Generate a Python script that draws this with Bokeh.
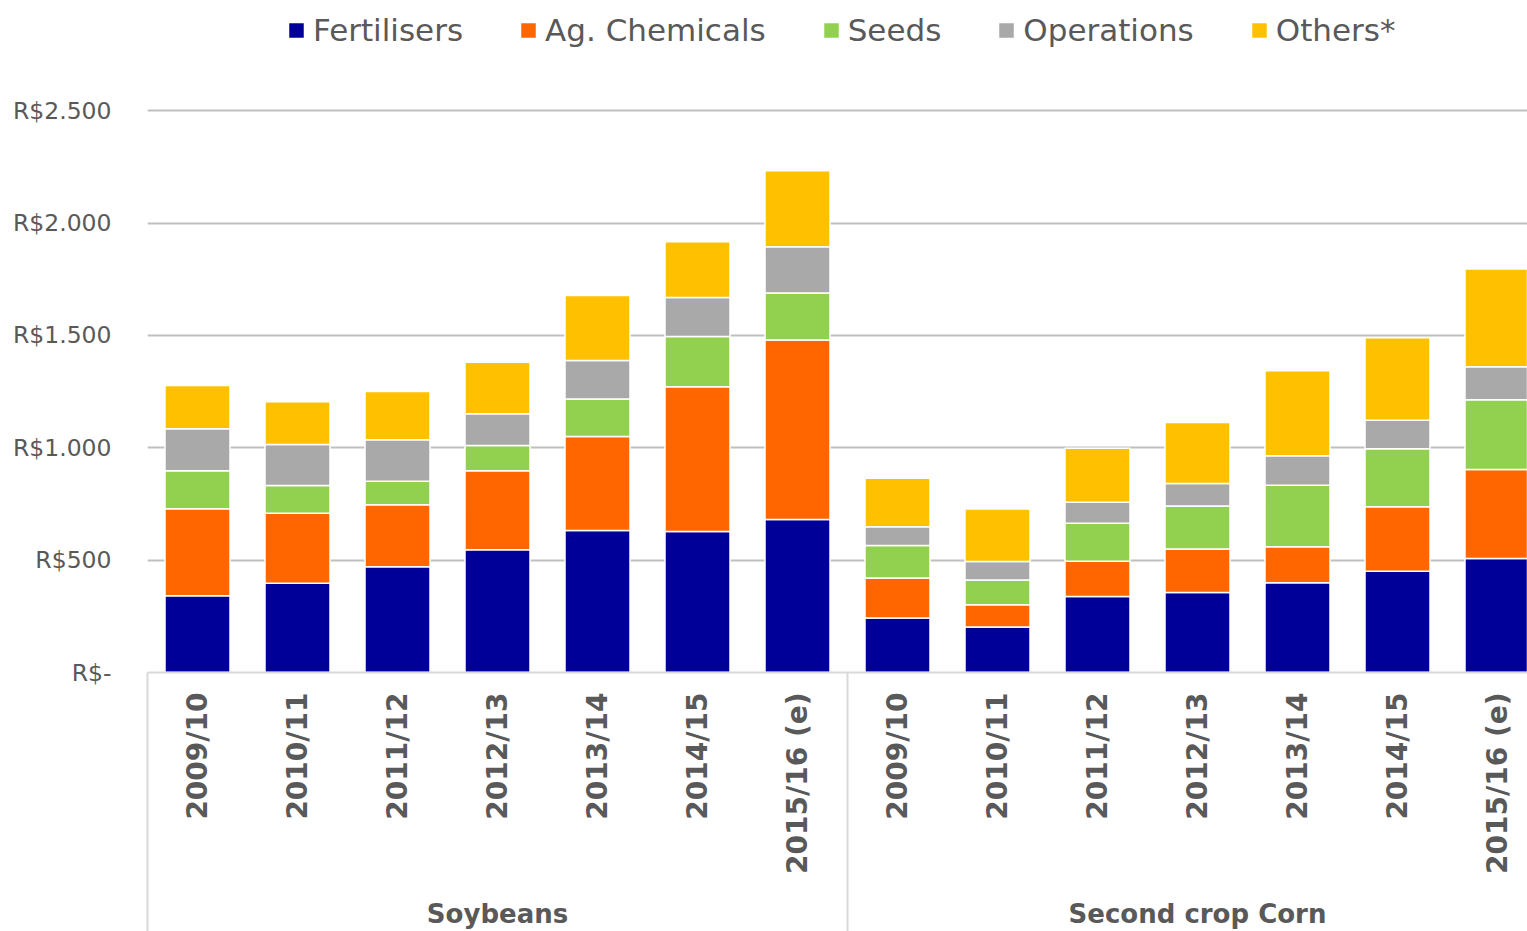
from bokeh.plotting import figure
from bokeh.models import ColumnDataSource, Range1d, FixedTicker, LinearAxis
from bokeh.embed import file_html
from bokeh.resources import INLINE

years = ["2009/10", "2010/11", "2011/12", "2012/13", "2013/14", "2014/15", "2015/16 (e)",
         "2009/10", "2010/11", "2011/12", "2012/13", "2013/14", "2014/15", "2015/16 (e)"]
groups = ["Soybeans", "Second crop Corn"]
series = ["Fertilisers", "Ag. Chemicals", "Seeds", "Operations", "Others*"]
fertilisers = [342, 397, 471, 546, 632, 627, 681, 243, 202, 338, 356, 399, 451, 507]
ag_chemicals = [387, 312, 275, 352, 418, 645, 799, 178, 100, 157, 193, 161, 287, 396]
seeds = [169, 123, 105, 112, 167, 223, 209, 144, 110, 169, 192, 273, 258, 311]
operations = [187, 182, 185, 141, 171, 174, 206, 84, 82, 94, 100, 132, 126, 147]
others = [192, 191, 214, 229, 289, 248, 338, 215, 234, 240, 271, 378, 367, 435]
y_ticks = [0, 500, 1000, 1500, 2000, 2500]
y_tick_labels = ["R$-", "R$500", "R$1.000", "R$1.500", "R$2.000", "R$2.500"]

colors = ["#000099", "#FF6600", "#92D050", "#A9A9A9", "#FFC000"]
TXT = "#595959"
FONT = "DejaVu Sans"

xs = [i + 0.5 for i in range(len(years))]
n_per_group = len(years) // len(groups)
group_centers = [g * n_per_group + n_per_group / 2 for g in range(len(groups))]
group_edges = [g * n_per_group for g in range(len(groups) + 1)]
src = ColumnDataSource(dict(x=xs, **{s: v for s, v in zip(series, [fertilisers, ag_chemicals, seeds, operations, others])}))

p = figure(width=1527, height=931, output_backend="svg", toolbar_location=None,
           x_range=Range1d(0, 13.8), y_range=Range1d(0, 2990.2),
           min_border_left=147, min_border_right=0, min_border_top=0, min_border_bottom=259)
p.outline_line_color = None
p.background_fill_color = "white"
p.border_fill_color = "white"

r = p.vbar_stack(series, x="x", width=0.65, source=src, color=colors,
                 line_color="white", line_width=1.5, legend_label=series)

# y axis
p.yaxis.ticker = FixedTicker(ticks=y_ticks)
p.yaxis.major_label_overrides = {t: l for t, l in zip(y_ticks, y_tick_labels)}
p.yaxis.axis_line_color = None
p.yaxis.major_tick_line_color = None
p.yaxis.minor_tick_line_color = None
p.yaxis.major_tick_out = 0
p.yaxis.minor_tick_out = 0
p.yaxis.major_label_text_font = FONT
p.yaxis.major_label_text_font_size = "23.5px"
p.yaxis.major_label_text_color = TXT
p.yaxis.major_label_standoff = 36

p.ygrid.ticker = FixedTicker(ticks=y_ticks[1:])
p.ygrid.grid_line_color = "#BFBFBF"
p.ygrid.grid_line_width = 2
p.xgrid.grid_line_color = None

# x axis (years) with group separator lines as minor ticks
SEP = 262
xa = p.xaxis[0]
xa.ticker = FixedTicker(ticks=xs, minor_ticks=group_edges)
xa.major_label_overrides = {x: y for x, y in zip(xs, years)}
xa.major_label_orientation = 1.5708
xa.major_label_text_font = FONT
xa.major_label_text_font_style = "bold"
xa.major_label_text_font_size = "28px"
xa.major_label_text_color = TXT
xa.major_label_standoff = 20 - SEP
xa.major_tick_line_color = None
xa.major_tick_out = 0
xa.major_tick_in = 0
xa.minor_tick_in = 0
xa.minor_tick_out = SEP
xa.minor_tick_line_color = "#D9D9D9"
xa.minor_tick_line_width = 2
xa.axis_line_color = "#D9D9D9"
xa.axis_line_width = 2

# group axis
ga = LinearAxis(ticker=FixedTicker(ticks=group_centers, minor_ticks=[]))
ga.major_label_overrides = {c: g for c, g in zip(group_centers, groups)}
ga.axis_line_color = None
ga.major_tick_line_color = None
ga.minor_tick_line_color = None
ga.major_tick_out = 0
ga.major_tick_in = 0
ga.minor_tick_out = 0
ga.major_label_text_font = FONT
ga.major_label_text_font_style = "bold"
ga.major_label_text_font_size = "26px"
ga.major_label_text_color = TXT
ga.major_label_standoff = 22
p.add_layout(ga, "below")

leg = p.legend[0]
leg.location = (139, 624)
leg.orientation = "horizontal"
leg.border_line_color = None
leg.background_fill_alpha = 0
leg.padding = 0
leg.margin = 0
leg.spacing = 55
leg.glyph_width = 20
leg.glyph_height = 20
leg.label_standoff = 7
leg.label_text_font = FONT
leg.label_text_font_size = "31px"
leg.label_text_color = TXT

open("out.html", "w").write(file_html(p, INLINE))
